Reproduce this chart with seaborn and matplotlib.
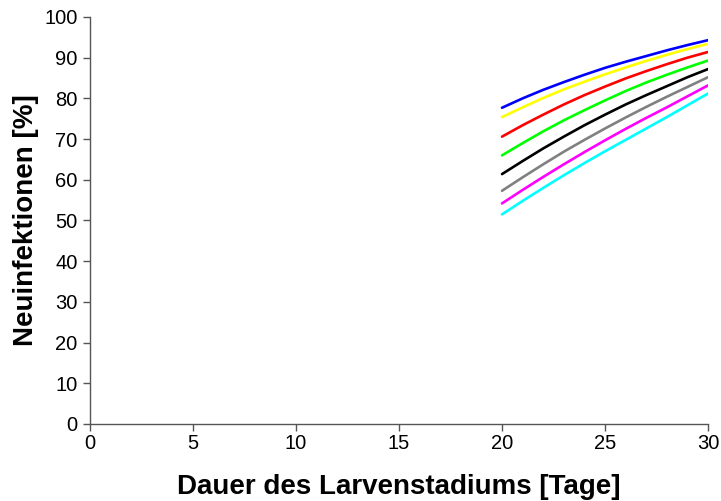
import numpy as np
import pandas as pd
import matplotlib
matplotlib.use("Agg")
import matplotlib.pyplot as plt
import seaborn as sns

tage = [20, 21, 22, 23, 24, 25, 26, 27, 28, 29, 30]

blau = [77.7, 80.0, 82.1, 84.0, 85.8, 87.5, 89.0, 90.4, 91.8, 93.1, 94.3]
gelb = [75.4, 77.8, 80.1, 82.2, 84.1, 85.9, 87.6, 89.2, 90.7, 92.1, 93.4]
rot = [70.6, 73.4, 76.0, 78.5, 80.8, 82.9, 84.9, 86.7, 88.4, 90.0, 91.4]
gruen = [66.0, 69.0, 71.9, 74.6, 77.1, 79.5, 81.8, 83.9, 85.8, 87.6, 89.3]
schwarz = [61.4, 64.6, 67.7, 70.6, 73.4, 76.0, 78.5, 80.8, 83.0, 85.2, 87.2]
grau = [57.3, 60.6, 63.8, 66.9, 69.8, 72.6, 75.3, 77.9, 80.4, 82.8, 85.2]
magenta = [54.2, 57.5, 60.7, 63.8, 66.8, 69.7, 72.5, 75.2, 77.8, 80.5, 83.2]
cyan = [51.5, 54.8, 58.0, 61.1, 64.1, 67.0, 69.8, 72.6, 75.4, 78.3, 81.2]

sns.set_style("ticks")
plt.rcParams['font.family'] = ['Liberation Sans', 'DejaVu Sans']

serien = {"blau": blau, "gelb": gelb, "rot": rot, "gruen": gruen,
          "schwarz": schwarz, "grau": grau, "magenta": magenta, "cyan": cyan}
farben = {"blau": "#0000ff", "gelb": "#ffff00", "rot": "#ff0000", "gruen": "#00ff00",
          "schwarz": "#000000", "grau": "#808080", "magenta": "#ff00ff", "cyan": "#00ffff"}

rows = []
for name, werte in serien.items():
    for t, w in zip(tage, werte):
        rows.append([name, t, w])
df = pd.DataFrame(rows, columns=["Serie", "Tage", "Neuinfektionen"])

fig = plt.figure(figsize=(7.21, 5.01), dpi=100)
ax = fig.add_axes([0.1248, 0.1537, 0.8572, 0.8124])

sns.lineplot(data=df, x="Tage", y="Neuinfektionen", hue="Serie", palette=farben,
             linewidth=1.9, legend=False, ax=ax)

ax.set_xlim(0, 30)
ax.set_ylim(0, 100)
ax.set_xticks(range(0, 31, 5))
ax.set_yticks(range(0, 101, 10))
ax.tick_params(labelsize=14.5, length=5, width=1, color="#555555", labelcolor="black")
ax.tick_params(axis="x", pad=2)
ax.tick_params(axis="y", pad=4)
for s in ["left", "bottom"]:
    ax.spines[s].set_color("#555555")
    ax.spines[s].set_linewidth(1)
sns.despine(ax=ax)

ax.set_xlabel("Dauer des Larvenstadiums [Tage]", fontsize=20, fontweight="bold",
              color="black", labelpad=15)
ax.set_ylabel("Neuinfektionen [%]", fontsize=20, fontweight="bold",
              color="black", labelpad=4)

plt.savefig("out.png", dpi=100)
